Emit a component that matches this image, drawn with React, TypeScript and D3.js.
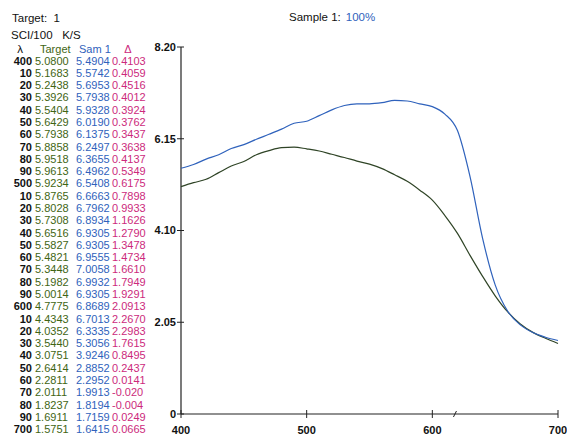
import React from "react";
import * as d3 from "d3";

const wavelengths = d3.range(400, 701, 10);
const targetValues = [5.0800,5.1683,5.2438,5.3926,5.5404,5.6429,5.7938,5.8858,5.9518,5.9613,5.9234,5.8765,5.8028,5.7308,5.6516,5.5827,5.4821,5.3448,5.1982,5.0014,4.7775,4.4343,4.0352,3.5440,3.0751,2.6414,2.2811,2.0111,1.8237,1.6911,1.5751];
const sampleValues = [5.4904,5.5742,5.6953,5.7938,5.9328,6.0190,6.1375,6.2497,6.3655,6.4962,6.5408,6.6663,6.7962,6.8934,6.9305,6.9305,6.9555,7.0058,6.9932,6.9305,6.8689,6.7013,6.3335,5.3056,3.9246,2.8852,2.2952,1.9913,1.8194,1.7159,1.6415];
const deltaLabels = ["0.4103","0.4059","0.4516","0.4012","0.3924","0.3762","0.3437","0.3638","0.4137","0.5349","0.6175","0.7898","0.9933","1.1626","1.2790","1.3478","1.4734","1.6610","1.7949","1.9291","2.0913","2.2670","2.2983","1.7615","0.8495","0.2437","0.0141","-0.020","-0.004","0.0249","0.0665"];
const yTicks = [0, 2.05, 4.1, 6.15, 8.2];
const yTickLabels = ["0", "2.05", "4.10", "6.15", "8.20"];
const xTicks = [400, 500, 600, 700];

const W = 567, H = 436;
const FONT = "'Liberation Sans', Arial, sans-serif";
const GREEN = "#3f6514";
const BLUE = "#2f62bc";
const MAGENTA = "#cc2a7c";

export default function App() {
  const x = d3.scaleLinear().domain([400, 700]).range([181, 558]);
  const y = d3.scaleLinear().domain([0, 8.2]).range([414, 47]);
  const line = d3.line<number>()
    .x((_, i) => x(wavelengths[i]))
    .y((v) => y(v))
    .curve(d3.curveMonotoneX);

  const rowY = d3.scaleLinear().domain([0, 30]).range([60.7, 429.3]);
  const lambdaLabel = (w: number) => (w % 100 === 0 ? String(w) : String(w % 100));

  return (
    <svg width={W} height={H} style={{ position: "absolute", left: 0, top: 0, background: "#fff" }} fontFamily={FONT}>
      <rect width={W} height={H} fill="#fff" />
      {/* header */}
      <text x={12} y={22} fontSize={11.5} fill="#111">Target:&nbsp;&nbsp;1</text>
      <text x={11} y={39} fontSize={11.5} fill="#111">SCI/100&nbsp;&nbsp;&nbsp;K/S</text>
      <text x={289} y={21} fontSize={11.5} fill="#111">
        Sample 1:
        <tspan fill={BLUE} dx={5}>100%</tspan>
      </text>
      {/* table header */}
      <text x={20} y={49} dy="0.35em" fontSize={11.5} textAnchor="middle" fill="#111">λ</text>
      <text x={40} y={49} dy="0.35em" fontSize={11} fill={GREEN}>Target</text>
      <text x={79} y={49} dy="0.35em" fontSize={11} fill={BLUE}>Sam 1</text>
      <text x={128} y={49} dy="0.35em" fontSize={11} textAnchor="middle" fill={MAGENTA}>Δ</text>
      {wavelengths.map((w, i) => (
        <g key={w}>
          <text x={32} y={rowY(i)} dy="0.35em" fontSize={11} fontWeight="bold" textAnchor="end" fill="#111">{lambdaLabel(w)}</text>
          <text x={35} y={rowY(i)} dy="0.35em" fontSize={11} fill={GREEN}>{targetValues[i].toFixed(4)}</text>
          <text x={76} y={rowY(i)} dy="0.35em" fontSize={11} fill={BLUE}>{sampleValues[i].toFixed(4)}</text>
          <text x={112} y={rowY(i)} dy="0.35em" fontSize={11} fill={MAGENTA}>{deltaLabels[i]}</text>
        </g>
      ))}
      {/* axes */}
      <line x1={x(400)} x2={x(400)} y1={y(8.2)} y2={y(0)} stroke="#222" strokeWidth={1.2} />
      <line x1={x(400)} x2={x(700)} y1={y(0)} y2={y(0)} stroke="#222" strokeWidth={1.2} />
      {yTicks.map((t, i) => (
        <g key={t}>
          <line x1={x(400) - 4} x2={x(400) + 3} y1={y(t)} y2={y(t)} stroke="#222" />
          <text x={x(400) - 5} y={y(t)} dy="0.35em" fontSize={11} fontWeight="bold" textAnchor="end" fill="#111">{yTickLabels[i]}</text>
        </g>
      ))}
      {xTicks.map((t) => (
        <g key={t}>
          <line x1={x(t)} x2={x(t)} y1={y(0) - 4} y2={y(0) + 4} stroke="#222" />
          <text x={x(t)} y={y(0) + 16} dy="0.35em" fontSize={11} fontWeight="bold" textAnchor="middle" fill="#111">{t}</text>
        </g>
      ))}
      <line x1={x(618) - 1.5} x2={x(618) + 1.5} y1={y(0) + 3} y2={y(0) - 3} stroke="#222" />
      {/* curves */}
      <path d={line(targetValues) ?? ""} fill="none" stroke="#2f4426" strokeWidth={1.2} />
      <path d={line(sampleValues) ?? ""} fill="none" stroke={BLUE} strokeWidth={1.2} />
    </svg>
  );
}
